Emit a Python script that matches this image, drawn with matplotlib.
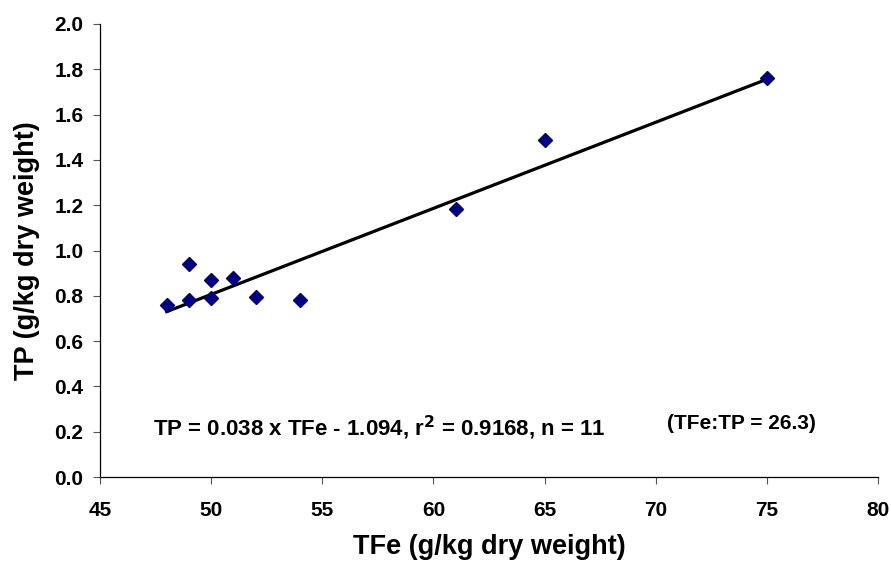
import matplotlib.pyplot as plt
import numpy as np

plt.rcParams['font.family'] = ['Liberation Sans', 'DejaVu Sans']
plt.rcParams['font.weight'] = 'bold'

# total iron vs total phosphorus (g/kg dry weight)
tfe = [48, 49, 49, 50, 50, 51, 52, 54, 61, 65, 75]
tp = [0.76, 0.94, 0.78, 0.87, 0.79, 0.88, 0.795, 0.78, 1.185, 1.49, 1.76]

# regression line: TP = slope * TFe + intercept
slope = 0.038
intercept = -1.094
fit_x = [48, 75]

xticks = [45, 50, 55, 60, 65, 70, 75, 80]
yticks = [0.0, 0.2, 0.4, 0.6, 0.8, 1.0, 1.2, 1.4, 1.6, 1.8, 2.0]

fig = plt.figure(figsize=(8.91, 5.67), dpi=100)
ax = fig.add_axes([0.1122, 0.1587, 0.8732, 0.799])

fx = np.array(fit_x)
ax.plot(fx, slope * fx + intercept, color='black', lw=2.3, zorder=2)
ax.plot(tfe, tp, 'D', color='#000080', markersize=7.2, zorder=3)

ax.set_xlim(45, 80)
ax.set_ylim(0, 2.0)
ax.set_xticks(xticks)
ax.set_yticks(yticks)
ax.set_yticklabels([f'{v:.1f}' for v in yticks])
ax.tick_params(direction='out', length=5, width=0.8, labelsize=15, color='#555555')
ax.tick_params(axis='x', pad=12)
ax.tick_params(axis='y', pad=7)
for lbl in ax.get_xticklabels() + ax.get_yticklabels():
    lbl.set_fontweight('bold')

for side in ['top', 'right']:
    ax.spines[side].set_visible(False)
for side in ['left', 'bottom']:
    ax.spines[side].set_linewidth(0.9)

ax.set_xlabel('TFe (g/kg dry weight)', fontsize=19.5, fontweight='bold', labelpad=10)
ax.set_ylabel('TP (g/kg dry weight)', fontsize=19.5, fontweight='bold', labelpad=10)

ax.text(47.38, 0.216, f'TP = {slope:.3f} x TFe - {abs(intercept):.3f}, r$^\\mathbf{{2}}$ = 0.9168, n = 11',
        fontsize=16, fontweight='bold', va='center', ha='left')
ax.text(73.86, 0.238, '(TFe:TP = 26.3)', fontsize=15, fontweight='bold', va='center', ha='center')

fig.savefig('out.png', dpi=100)
